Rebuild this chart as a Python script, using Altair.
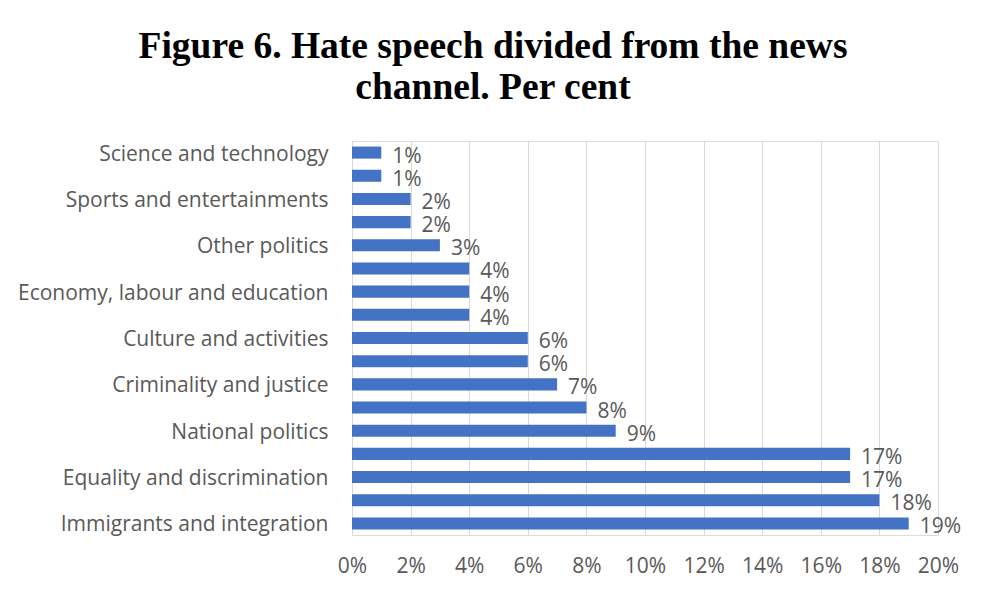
import json
import altair as alt
import pandas as pd

labels = [
    "Science and technology", "", "Sports and entertainments", "",
    "Other politics", "", "Economy, labour and education", "",
    "Culture and activities", "", "Criminality and justice ", "",
    "National politics", "", "Equality and discrimination", "",
    "Immigrants and integration",
]
values = [1, 1, 2, 2, 3, 4, 4, 4, 6, 6, 7, 8, 9, 17, 17, 18, 19]

df = pd.DataFrame({
    "idx": list(range(len(values))),
    "value": [v / 100 for v in values],
    "text": [f"{v}%" for v in values],
})

label_expr = json.dumps(labels) + "[datum.value]"
font = "Open Sans"
grey = "#595959"

y = alt.Y("idx:O", sort="ascending", title=None,
          scale=alt.Scale(paddingInner=0.48, paddingOuter=0.24),
          axis=alt.Axis(labelExpr=label_expr, domain=False, ticks=False,
                        labelPadding=24, labelFontSize=21, labelColor=grey,
                        labelFont=font, labelLimit=400, labelBaseline="middle",
                        labelOffset=2))
x = alt.X("value:Q", title=None,
          scale=alt.Scale(domain=[0, 0.2]),
          axis=alt.Axis(format=".0%", values=[i / 100 for i in range(0, 21, 2)],
                        domain=False, ticks=False, grid=True, gridColor="#D9D9D9",
                        labelFontSize=21, labelColor=grey, labelFont=font,
                        labelPadding=20, labelFlush=False, labelOverlap=False))

bars = alt.Chart(df).mark_bar(color="#4472C4").encode(x=x, y=y)
text = alt.Chart(df).mark_text(align="left", dx=11, dy=4, fontSize=21,
                               font=font, color=grey).encode(
    x="value:Q", y=alt.Y("idx:O", sort="ascending"), text="text:N")

chart = (bars + text).properties(
    width=586, height=394,
    autosize=alt.AutoSizeParams(type="none"),
    padding={"left": 352, "top": 141, "right": 49, "bottom": 60},
    title=alt.TitleParams(
        ["Figure 6. Hate speech divided from the news", "channel. Per cent"],
        font="Liberation Serif", fontSize=37.5, fontWeight="bold", color="#000000",
        lineHeight=41, anchor="middle", dx=-152, offset=35,
    ),
).configure_view(stroke=None).configure(background="white")

chart.save("out.html", embed_options={"renderer": "svg", "actions": False})
